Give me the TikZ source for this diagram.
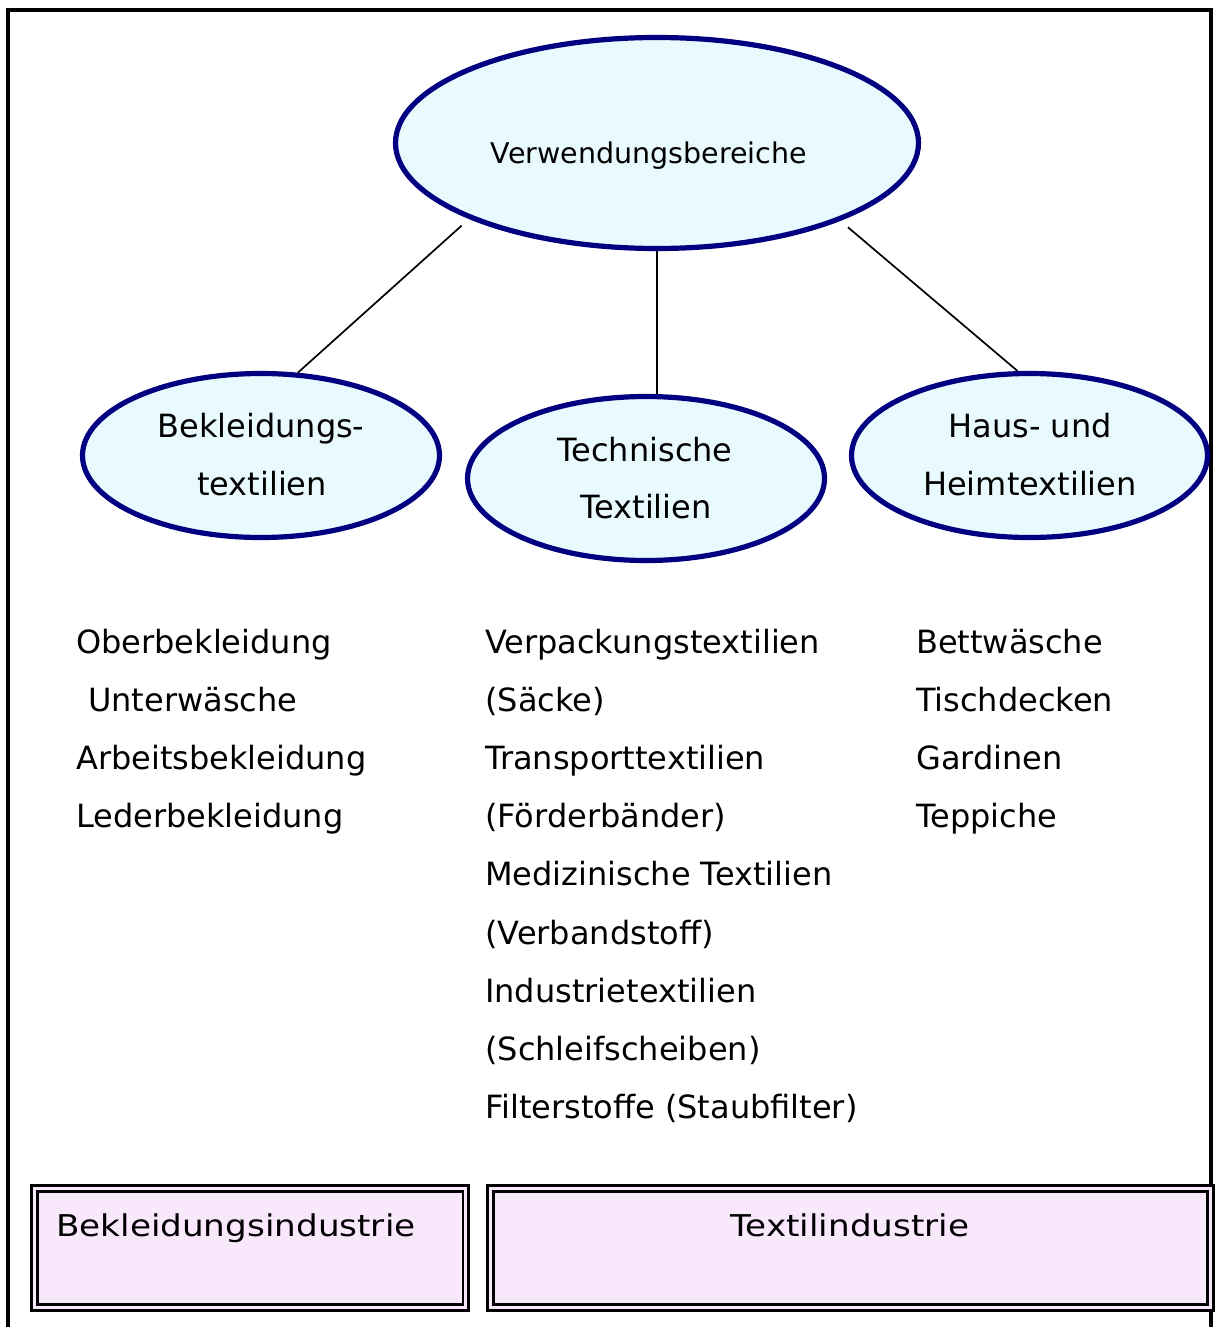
\documentclass[tikz,border=0pt]{standalone}
\usepackage{fontspec}
\setmainfont{DejaVu Sans}
\newfontfamily\widefont[FakeStretch=1.14]{DejaVu Sans}
\usetikzlibrary{shapes.geometric}

\definecolor{rimblue}{RGB}{0,0,128}
\definecolor{ovalfill}{RGB}{232,250,254}
\definecolor{boxfill}{RGB}{249,232,252}

\tikzset{
  oval/.style={ellipse, draw=rimblue, line width=5.2pt, fill=ovalfill, inner sep=0pt},
  label31/.style={inner sep=0pt, font=\fontsize{32}{36}\selectfont},
  itemtext/.style={label31, anchor=base west},
  ovaltext/.style={label31, anchor=base},
  link/.style={line width=1.7pt},
  industrybox/.style={rectangle, draw=black, line width=2.7pt, double=boxfill,
    double distance=3pt, fill=boxfill, inner sep=0pt},
  boxtext/.style={inner sep=0pt, font=\widefont\fontsize{30}{34}\selectfont}
}

\begin{document}
\begin{tikzpicture}[x=1pt, y=-1pt]
  \useasboundingbox (0,0) rectangle (1217,1327);
  \fill[white] (0,0) rectangle (1217,1327);

  % open frame (no bottom edge)
  \draw[line width=3.4pt] (8,1327) -- (8,10) -- (1211,10) -- (1211,1327);

  % ovals
  \node[oval, minimum width=523pt, minimum height=211pt] (top) at (657,143) {};
  \node[oval, minimum width=357pt, minimum height=164pt] (cloth) at (261,455.5) {};
  \node[oval, minimum width=357pt, minimum height=164pt] (tech) at (646,478.5) {};
  \node[oval, minimum width=356pt, minimum height=164pt] (home) at (1029.5,455.5) {};

  % oval labels
  \node[inner sep=0pt, anchor=base, font=\fontsize{28.5}{33}\selectfont] (topT) at (649,163) {Verwendungsbereiche};
  \node[ovaltext] (clothA) at (261,437) {Bekleidungs-};
  \node[ovaltext] (clothB) at (262,495) {textilien};
  \node[ovaltext] (techA) at (645,461) {Technische};
  \node[ovaltext] (techB) at (646,518) {Textilien};
  \node[ovaltext] (homeA) at (1030,437) {Haus- und};
  \node[ovaltext] (homeB) at (1030,495) {Heimtextilien};

  % connectors
  \draw[link, shorten <=10pt] (top.202.9) -- (cloth.66.7);
  \draw[link] (top.south) -- (top.south |- tech.north);
  \draw[link, shorten <=10pt] (top.337.2) -- (home.98.4);

  % item lists
  \foreach \t [count=\i] in {Oberbekleidung, {\hspace*{12pt}Unterwäsche}, Arbeitsbekleidung, Lederbekleidung}
    \node[itemtext] (left\i) at (76, 653+58.2*\i-58.2) {\t};
  \foreach \t [count=\i] in {Verpackungstextilien, (Säcke), Transporttextilien, (Förderbänder),
      Medizinische Textilien, (Verbandstoff), Industrietextilien, (Schleifscheiben),
      Filterstoffe (Staubfilter)}
    \node[itemtext] (mid\i) at (485, 653+58.2*\i-58.2) {\t};
  \foreach \t [count=\i] in {Bettwäsche, Tischdecken, Gardinen, Teppiche}
    \node[itemtext] (right\i) at (916, 653+58.2*\i-58.2) {\t};

  % industry boxes
  \node[industrybox, minimum width=431.25pt, minimum height=118.75pt, anchor=north west]
    (clothbox) at (33.25,1187.25) {};
  \node[industrybox, minimum width=720pt, minimum height=118.75pt, anchor=north west]
    (textbox) at (489.25,1187.25) {};
  \node[boxtext, anchor=base west] (clothboxT) at (56,1236) {Bekleidungsindustrie};
  \node[boxtext, anchor=base] (textboxT) at (850,1236) {Textilindustrie};
\end{tikzpicture}
\end{document}
